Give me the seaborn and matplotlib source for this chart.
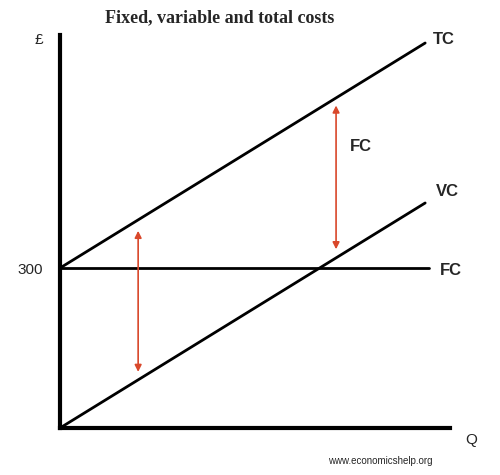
import matplotlib.pyplot as plt
import seaborn as sns
import pandas as pd

# quantities and costs
q = [0, 100]
fixed_cost = 300
vc = [0, 422]
tc = [fixed_cost + v for v in vc]
fc_q = [0, 101]

sns.set_style("white")
fig = plt.figure(figsize=(5, 4.75), dpi=100)
ax = fig.add_axes([60 / 500, 47 / 475, 390 / 500, 393 / 475])

df = pd.DataFrame({"Q": q, "VC": vc, "TC": tc})
sns.lineplot(data=df, x="Q", y="TC", color="black", lw=2, ax=ax)
sns.lineplot(data=df, x="Q", y="VC", color="black", lw=2, ax=ax)
sns.lineplot(x=fc_q, y=[fixed_cost, fixed_cost], color="black", lw=2, ax=ax)

ax.set_xlim(0, 106.8)
ax.set_ylim(0, 737)
for s in ["top", "right"]:
    ax.spines[s].set_visible(False)
for s in ["left", "bottom"]:
    ax.spines[s].set_linewidth(3)
    ax.spines[s].set_color("black")
ax.set_xticks([])
ax.set_yticks([fixed_cost])
ax.set_yticklabels(["300"], fontsize=11, family="Liberation Sans")
ax.tick_params(axis="y", length=0, pad=12)
ax.set_xlabel("")
ax.set_ylabel("")

# fixed cost gap arrows
arrow = dict(arrowstyle="<|-|>", color="#d9482b", lw=1.2, mutation_scale=10)
for qa, lo, hi in [(21.4, 100, 375), (75.6, 330, 610)]:
    ax.annotate("", xy=(qa, hi), xytext=(qa, lo), arrowprops=arrow)

lab = dict(fontsize=12, fontweight="bold", family="Liberation Sans")
ax.text(79.5, 520, "FC", **lab)
ax.text(102, 720, "TC", **lab)
ax.text(103, 435, "VC", **lab)
ax.text(104, 295, "FC", va="center", **lab)

fig.text(35 / 500, 1 - 40 / 475, "£", fontsize=11, family="Liberation Sans", va="center")
fig.text(465 / 500, 1 - 440 / 475, "Q", fontsize=11, family="Liberation Sans", va="center")
fig.text(220 / 500, 1 - 18 / 475, "Fixed, variable and total costs", fontsize=13,
         fontweight="bold", family="Liberation Serif", ha="center", va="center")
fig.text(380 / 500, 1 - 461 / 475, "www.economicshelp.org", fontsize=7,
         family="Liberation Sans", ha="center", va="center")

fig.savefig("out.png", dpi=100)
